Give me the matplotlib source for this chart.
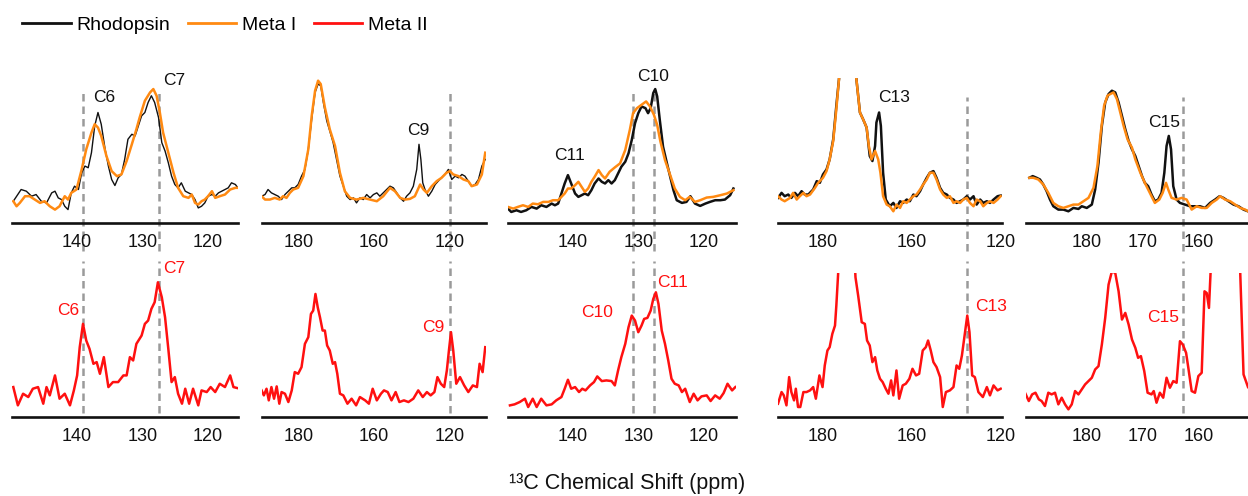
import matplotlib
matplotlib.use('Agg')
import matplotlib.pyplot as plt

plt.rcParams['font.family'] = ['Liberation Sans', 'DejaVu Sans']

# ---- data (ppm, intensity a.u.) ----
# panel 1: C6 / C7
p1_rho_ppm = [149.8, 148.6, 147.8, 147.0, 146.3, 145.5, 144.7, 143.9, 143.4, 142.9, 142.4, 141.9, 141.4, 140.9,
              140.4, 139.8, 139.3, 138.8, 138.3, 137.8, 137.3, 136.8, 136.3, 135.7, 135.2, 134.7, 134.2, 133.7,
              133.2, 132.7, 132.2, 131.6, 131.1, 130.6, 130.1, 129.6, 129.1, 128.6, 128.1, 127.5, 127.0, 126.5,
              126.0, 125.5, 125.0, 124.5, 124.0, 123.4, 122.9, 122.4, 121.9, 121.4, 120.9, 120.4, 119.9, 119.3,
              118.8, 118.3, 117.8, 117.3, 116.8, 116.3, 115.7, 115.4]
p1_rho_int = [65, 100, 95, 80, 85, 65, 60, 90, 95, 75, 70, 50, 40, 90,
              110, 100, 150, 170, 165, 210, 290, 330, 295, 220, 170, 130, 112, 135,
              145, 190, 250, 265, 260, 290, 320, 330, 360, 380, 360, 315, 240, 215,
              180, 140, 115, 105, 120, 95, 90, 85, 70, 45, 50, 60, 80, 85,
              80, 90, 95, 100, 105, 120, 115, 107]
p1_m1_ppm = [149.8, 149.3, 148.8, 148.0, 147.3, 146.5, 145.7, 145.0, 144.2, 143.4, 142.7, 141.9, 141.4, 140.9,
             140.1, 139.3, 138.6, 137.8, 137.3, 136.8, 136.3, 135.5, 134.7, 133.9, 133.2, 132.4, 131.6, 130.9,
             130.4, 129.6, 128.8, 128.3, 127.8, 127.3, 126.8, 126.0, 125.2, 124.5, 123.7, 122.9, 122.4, 121.9,
             121.4, 120.9, 120.4, 119.9, 119.3, 118.8, 118.1, 117.3, 116.5, 115.7, 115.4]
p1_m1_int = [65, 50, 60, 80, 80, 70, 60, 65, 50, 40, 50, 80, 70, 90,
             100, 160, 220, 270, 295, 285, 260, 200, 155, 140, 145, 185, 235, 280,
             315, 365, 390, 400, 380, 330, 270, 210, 150, 105, 80, 75, 85, 60,
             55, 65, 70, 80, 95, 75, 80, 85, 100, 105, 105]
p1_m2_ppm = [149.8, 149.1, 148.3, 147.5, 146.8, 146.0, 145.2, 144.7, 144.2, 143.4, 142.7, 141.9, 141.1, 140.5,
             140.0, 139.6, 139.1, 138.6, 138.1, 137.5, 137.0, 136.5, 135.9, 135.2, 134.5, 133.7, 132.9, 132.4,
             131.9, 131.4, 130.9, 130.1, 129.6, 129.1, 128.6, 128.1, 127.6, 127.0, 126.5, 126.0, 125.5, 125.0,
             124.5, 123.9, 123.4, 122.8, 122.2, 121.4, 120.9, 120.1, 119.5, 118.8, 118.1, 117.3, 116.5, 116.0,
             115.4]
p1_m2_int = [90, 35, 70, 60, 85, 90, 40, 90, 65, 125, 55, 70, 35, 80,
             125, 210, 280, 230, 205, 160, 165, 130, 180, 90, 105, 105, 125, 125,
             180, 170, 220, 245, 280, 290, 325, 345, 405, 360, 300, 205, 105, 120,
             70, 40, 85, 40, 85, 35, 80, 75, 90, 75, 100, 90, 125, 90,
             87]

# panel 2: C9 (axis labelled 180 / 160 / 120)
p2_rho_ppm = [189.9, 189.0, 188.2, 187.3, 186.4, 185.5, 184.6, 183.7, 182.8, 181.9, 181.1, 180.2, 179.3, 178.4,
              177.5, 176.6, 175.7, 174.9, 174.2, 173.5, 172.6, 171.8, 170.9, 170.0, 169.1, 168.2, 167.3, 166.4,
              165.5, 164.7, 163.8, 162.9, 162.0, 161.1, 160.2, 159.3, 158.5, 157.6, 156.7, 155.8, 154.9, 154.0,
              153.1, 152.2, 151.4, 150.5, 149.6, 148.7, 148.1, 147.6, 147.1, 146.5, 145.6, 144.7, 143.8, 143.0,
              142.1, 141.2, 140.3, 139.4, 138.5, 137.6, 136.7, 135.9, 135.0, 134.1, 133.2, 132.3, 131.4, 130.5]
p2_rho_int = [80, 85, 100, 90, 85, 80, 70, 85, 95, 105, 105, 115, 140, 160,
              220, 310, 390, 415, 410, 360, 305, 275, 240, 190, 140, 110, 80, 70,
              75, 60, 75, 70, 85, 75, 85, 90, 80, 90, 100, 110, 105, 90,
              75, 65, 80, 90, 110, 160, 235, 190, 120, 100, 80, 95, 115, 125,
              135, 145, 160, 130, 140, 135, 145, 140, 125, 110, 115, 130, 170, 190]
p2_m1_ppm = [189.9, 189.0, 187.7, 186.4, 185.1, 184.2, 183.3, 182.4, 181.5, 180.2, 178.8, 177.5, 176.6, 175.7,
             174.9, 174.2, 173.1, 171.8, 170.4, 169.1, 167.8, 166.4, 164.7, 162.9, 161.1, 159.3, 157.6, 155.8,
             154.5, 153.1, 151.8, 150.5, 149.2, 147.8, 146.9, 146.0, 144.7, 143.4, 142.1, 140.8, 139.9, 139.0,
             137.6, 136.3, 135.0, 134.1, 132.7, 131.4, 130.5]
p2_m1_int = [80, 70, 70, 75, 70, 80, 75, 90, 100, 105, 140, 220, 320, 395,
             425, 415, 345, 280, 230, 150, 95, 75, 70, 75, 70, 65, 80, 105,
             95, 75, 70, 72, 80, 115, 100, 90, 110, 125, 135, 150, 155, 145,
             140, 130, 125, 110, 115, 145, 210]
p2_m2_ppm = [189.9, 189.3, 188.6, 188.0, 187.3, 186.6, 185.9, 185.2, 184.6, 183.7, 182.8, 181.9, 181.1, 180.2,
             179.3, 178.4, 177.5, 176.8, 176.2, 175.6, 175.0, 174.4, 173.7, 173.1, 172.5, 171.8, 171.0, 170.4,
             169.8, 169.1, 168.2, 167.1, 166.0, 164.8, 163.8, 162.4, 161.4, 160.4, 159.3, 158.2, 157.4, 156.4,
             155.4, 154.3, 153.3, 152.1, 150.9, 149.6, 148.3, 147.1, 146.0, 145.0, 144.0, 143.2, 142.3, 141.4,
             140.7, 140.1, 139.6, 139.0, 138.2, 137.2, 136.1, 135.0, 133.8, 132.7, 132.0, 131.2, 130.5]
p2_m2_int = [80, 65, 85, 50, 90, 55, 92, 40, 75, 70, 45, 80, 135, 130,
             150, 220, 240, 310, 320, 370, 330, 300, 260, 260, 215, 200, 160, 165,
             130, 70, 65, 40, 55, 35, 60, 50, 40, 85, 50, 70, 80, 75,
             50, 75, 45, 50, 45, 55, 80, 60, 75, 65, 75, 120, 100, 90,
             140, 205, 255, 200, 100, 120, 95, 75, 95, 90, 160, 135, 210]

# panel 3: C10 / C11
p3_rho_ppm = [150.0, 149.5, 148.7, 148.0, 147.2, 146.4, 145.6, 144.9, 144.1, 143.3, 142.8, 142.3, 141.8, 141.3,
              140.8, 140.3, 139.7, 139.2, 138.7, 138.2, 137.7, 137.2, 136.7, 136.1, 135.6, 135.1, 134.6, 134.1,
              133.6, 133.1, 132.6, 132.0, 131.5, 131.0, 130.5, 130.0, 129.5, 128.9, 128.5, 128.1, 127.7, 127.4,
              127.1, 126.7, 126.2, 125.6, 125.1, 124.6, 124.1, 123.3, 122.6, 122.0, 121.3, 120.5, 119.7, 119.0,
              118.2, 117.4, 116.7, 115.9, 115.4]
p3_rho_int = [43, 33, 38, 33, 38, 48, 43, 53, 48, 58, 53, 58, 88, 118,
              143, 118, 88, 78, 83, 88, 83, 98, 118, 133, 123, 118, 128, 118,
              128, 148, 168, 183, 208, 248, 298, 328, 348, 343, 328, 343, 388, 400,
              378, 308, 228, 178, 138, 98, 68, 60, 63, 80, 58, 51, 58, 63,
              68, 68, 70, 83, 103]
p3_m1_ppm = [150.0, 149.2, 148.5, 147.7, 146.9, 146.2, 145.4, 144.6, 143.8, 143.1, 142.3, 141.8, 141.3, 140.8,
             140.3, 139.7, 139.2, 138.7, 138.2, 137.7, 137.2, 136.7, 136.1, 135.6, 135.1, 134.4, 133.6, 132.8,
             132.0, 131.3, 130.8, 130.2, 129.5, 128.8, 128.2, 127.6, 127.1, 126.6, 125.9, 125.1, 124.4, 123.6,
             122.8, 122.1, 121.3, 120.5, 119.5, 118.5, 117.4, 116.4, 115.4]
p3_m1_int = [48, 43, 48, 53, 48, 58, 56, 63, 63, 68, 68, 78, 88, 103,
             103, 113, 123, 108, 93, 103, 123, 138, 158, 143, 133, 153, 166, 178,
             218, 278, 328, 343, 353, 363, 348, 323, 293, 243, 188, 143, 103, 78,
             68, 78, 63, 68, 76, 78, 83, 88, 98]
p3_m2_ppm = [149.7, 149.0, 148.2, 147.4, 146.9, 146.2, 145.6, 144.9, 144.1, 143.3, 142.6, 141.8, 141.3, 140.8,
             140.3, 139.7, 139.1, 138.6, 138.1, 137.4, 136.8, 136.3, 135.6, 134.9, 134.1, 133.6, 133.1, 132.6,
             132.0, 131.5, 131.0, 130.5, 130.0, 129.5, 129.1, 128.6, 128.1, 127.7, 127.3, 126.9, 126.4, 125.9,
             125.4, 124.9, 124.4, 123.8, 123.3, 122.8, 122.1, 121.5, 120.9, 120.3, 119.5, 118.9, 118.2, 117.5,
             116.9, 116.3, 115.6, 115.1]
p3_m2_int = [35, 38, 45, 55, 30, 55, 30, 55, 35, 38, 50, 60, 85, 112,
             85, 90, 75, 85, 80, 95, 105, 122, 108, 110, 108, 95, 140, 180,
             220, 270, 305, 290, 255, 275, 295, 298, 320, 355, 375, 340, 260, 220,
             170, 115, 100, 95, 75, 85, 45, 70, 50, 62, 65, 48, 65, 55,
             72, 100, 80, 90]

# panel 4: C13 (axis labelled 180 / 160 / 120)
p4_rho_ppm = [190.0, 189.2, 188.5, 187.7, 187.0, 186.2, 185.5, 184.7, 184.0, 183.2, 182.1, 181.3, 180.6, 179.9,
              179.1, 178.4, 177.6, 176.9, 176.3, 175.7, 174.5, 173.5, 172.4, 171.6, 170.9, 170.1, 169.4, 168.8,
              168.2, 167.9, 167.3, 166.9, 166.4, 165.8, 164.9, 164.1, 163.4, 162.6, 161.9, 161.1, 160.4, 159.6,
              158.9, 158.1, 157.4, 156.6, 155.9, 155.1, 154.4, 153.6, 152.9, 152.1, 151.4, 150.6, 149.9, 149.1,
              148.4, 147.6, 146.9, 146.1, 145.4, 144.6, 143.9, 143.1, 142.4, 141.6, 140.7, 140.0]
p4_rho_int = [75, 90, 80, 85, 75, 90, 80, 95, 85, 85, 100, 125, 120, 145,
              160, 190, 250, 350, 430, 590, 690, 590, 430, 330, 310, 285, 200, 185,
              230, 300, 330, 290, 150, 70, 50, 60, 45, 65, 60, 70, 65, 85,
              80, 95, 115, 135, 150, 155, 135, 105, 90, 85, 75, 70, 60, 65,
              70, 80, 70, 80, 55, 70, 60, 65, 60, 70, 80, 82]
p4_m1_ppm = [190.0, 189.2, 188.5, 187.3, 186.6, 185.8, 185.1, 184.3, 183.6, 182.8, 181.7, 181.0, 179.9, 179.1,
             178.4, 177.6, 176.9, 176.3, 175.7, 174.5, 173.5, 172.4, 171.6, 170.9, 170.1, 169.6, 169.0, 168.2,
             167.5, 167.0, 166.4, 165.6, 164.9, 164.1, 163.4, 162.6, 161.9, 161.1, 160.4, 159.6, 158.9, 158.1,
             157.4, 156.6, 155.9, 155.1, 154.4, 153.6, 152.9, 152.1, 151.4, 150.6, 149.9, 149.1, 148.4, 147.6,
             146.9, 146.1, 145.4, 144.6, 143.9, 143.1, 142.4, 141.6, 140.7, 140.0]
p4_m1_int = [80, 70, 65, 75, 90, 70, 80, 90, 80, 85, 105, 120, 135, 155,
             190, 245, 340, 430, 590, 690, 590, 430, 330, 310, 285, 230, 190, 215,
             190, 150, 80, 55, 50, 35, 55, 45, 65, 60, 70, 80, 85, 100,
             115, 130, 150, 150, 130, 100, 85, 75, 80, 60, 65, 60, 70, 75,
             60, 50, 70, 65, 50, 60, 65, 60, 70, 80]
p4_m2_ppm = [190.0, 189.2, 188.7, 188.1, 187.5, 187.0, 186.4, 186.0, 185.5, 185.0, 184.3, 183.6, 182.8, 182.1,
             181.5, 180.7, 180.0, 179.5, 178.9, 178.4, 177.8, 177.2, 176.9, 176.5, 176.1, 174.6, 173.1, 172.6,
             172.0, 171.2, 170.5, 170.0, 169.4, 168.8, 168.2, 167.7, 167.1, 166.5, 165.8, 165.2, 164.6, 164.1,
             163.4, 162.8, 162.0, 161.3, 160.5, 159.8, 159.0, 158.3, 157.5, 156.8, 156.3, 155.7, 155.1, 154.4,
             153.6, 153.0, 152.3, 151.4, 150.6, 149.9, 149.3, 148.7, 148.1, 147.5, 147.0, 146.4, 145.8, 145.0,
             144.0, 143.1, 142.4, 141.6, 140.7, 140.0]
p4_m2_int = [40, 75, 65, 35, 120, 75, 50, 85, 30, 30, 75, 75, 80, 90,
             55, 125, 90, 155, 200, 210, 250, 275, 335, 430, 555, 625, 555, 420,
             365, 285, 280, 230, 215, 165, 180, 140, 115, 105, 85, 70, 110, 65,
             140, 55, 95, 100, 115, 145, 125, 130, 200, 210, 230, 200, 165, 150,
             120, 30, 75, 80, 90, 155, 145, 185, 245, 305, 255, 125, 120, 75,
             60, 90, 65, 95, 80, 85]

# panel 5: C15
p5_rho_ppm = [190.3, 189.7, 189.0, 188.4, 187.8, 187.2, 186.6, 186.0, 185.1, 184.2, 183.3, 182.4, 181.5, 180.9,
              180.0, 179.1, 178.5, 177.9, 177.3, 176.7, 176.1, 175.5, 174.9, 174.3, 173.7, 173.1, 172.5, 171.9,
              171.3, 170.7, 170.1, 169.6, 169.0, 168.4, 167.8, 167.2, 166.6, 166.1, 165.7, 165.3, 164.9, 164.5,
              163.9, 163.3, 162.4, 161.5, 160.6, 159.7, 158.8, 157.9, 157.0, 156.2, 155.5, 154.6, 153.7, 152.8,
              151.9, 151.1]
p5_rho_int = [135, 140, 135, 130, 115, 95, 70, 50, 40, 40, 35, 45, 42, 50,
              45, 55, 100, 180, 290, 360, 385, 395, 390, 360, 320, 280, 245, 220,
              200, 170, 140, 120, 110, 85, 65, 70, 90, 150, 230, 260, 220, 110,
              70, 60, 55, 50, 50, 50, 45, 60, 70, 80, 75, 65, 55, 50,
              40, 35]
p5_m1_ppm = [190.3, 189.6, 188.7, 187.8, 186.9, 186.0, 185.1, 184.2, 183.3, 182.4, 181.5, 180.6, 179.7, 178.8,
             178.1, 177.5, 176.9, 176.3, 175.8, 175.2, 174.6, 174.0, 173.4, 172.7, 171.9, 171.3, 170.4, 169.6,
             168.7, 167.8, 167.0, 166.4, 165.8, 165.4, 164.8, 163.9, 163.0, 162.1, 161.2, 160.3, 159.4, 158.5,
             157.6, 156.7, 156.1, 155.2, 154.3, 153.4, 152.5, 151.6, 151.1]
p5_m1_int = [135, 135, 130, 115, 90, 60, 50, 45, 50, 55, 55, 65, 75, 105,
             170, 270, 350, 380, 385, 390, 370, 330, 290, 250, 225, 190, 150, 120,
             90, 60, 70, 90, 120, 100, 75, 70, 75, 70, 40, 50, 45, 45,
             60, 70, 80, 70, 65, 55, 45, 40, 35]
p5_m2_ppm = [191.0, 190.4, 189.8, 189.2, 188.6, 188.1, 187.5, 186.9, 186.3, 185.7, 185.1, 184.5, 183.9, 183.3,
             182.7, 182.1, 181.5, 180.9, 180.3, 179.7, 179.1, 178.5, 177.9, 177.3, 176.7, 176.1, 175.5, 174.9,
             174.3, 173.7, 173.1, 172.5, 171.9, 171.3, 170.8, 170.3, 169.7, 169.1, 168.4, 168.0, 167.5, 166.9,
             166.3, 165.7, 165.1, 164.5, 163.9, 163.3, 162.8, 162.2, 161.8, 161.2, 160.6, 160.0, 159.4, 158.9,
             158.5, 158.1, 157.8, 157.5, 155.5, 152.8, 152.5, 151.9, 151.1]
p5_m2_int = [70, 48, 68, 73, 53, 48, 33, 73, 68, 73, 38, 58, 38, 23,
             38, 78, 68, 83, 98, 108, 118, 143, 153, 218, 298, 398, 438, 433,
             378, 293, 313, 278, 233, 208, 178, 183, 138, 73, 68, 78, 43, 73,
             58, 118, 88, 108, 103, 228, 218, 193, 148, 78, 73, 123, 133, 378,
             373, 328, 438, 578, 678, 578, 438, 128, 90]

# ---- axis settings ----
p1_ticks, p1_labels = [140, 130, 120], ['140', '130', '120']
p2_ticks, p2_labels = [180, 160, 140], ['180', '160', '120']
p3_ticks, p3_labels = [140, 130, 120], ['140', '130', '120']
p4_ticks, p4_labels = [180, 160, 140], ['180', '160', '120']
p5_ticks, p5_labels = [180, 170, 160], ['180', '170', '160']

BLACK = '#111111'
ORANGE = '#FF8A12'
RED = '#FF1010'
GRID = '#9a9a9a'

panels = [
    dict(left=12, right=238, xlim=(150.0, 115.3), ticks=p1_ticks, labels=p1_labels, dash=[139.1, 127.5],
         dash_top=0.92, rho=(p1_rho_ppm, p1_rho_int), m1=(p1_m1_ppm, p1_m1_int), m2=(p1_m2_ppm, p1_m2_int),
         rho_lw=1.0, top_lab=[('C6', 135.8, 375), ('C7', 125.1, 426)],
         bot_lab=[('C6', 141.4, 321), ('C7', 125.1, 447)]),
    dict(left=262, right=486, xlim=(189.8, 130.3), ticks=p2_ticks, labels=p2_labels, dash=[139.8],
         dash_top=0.92, rho=(p2_rho_ppm, p2_rho_int), m1=(p2_m1_ppm, p2_m1_int), m2=(p2_m2_ppm, p2_m2_int),
         rho_lw=1.0, top_lab=[('C9', 148.3, 275)], bot_lab=[('C9', 144.4, 270)]),
    dict(left=508, right=736, xlim=(150.0, 115.0), ticks=p3_ticks, labels=p3_labels, dash=[130.8, 127.6],
         dash_top=0.90, rho=(p3_rho_ppm, p3_rho_int), m1=(p3_m1_ppm, p3_m1_int), m2=(p3_m2_ppm, p3_m2_int),
         rho_lw=1.8, top_lab=[('C11', 140.5, 203), ('C10', 127.7, 436)],
         bot_lab=[('C10', 136.3, 315), ('C11', 124.7, 405)]),
    dict(left=778, right=1002, xlim=(190.0, 139.7), ticks=p4_ticks, labels=p4_labels, dash=[147.6],
         dash_top=0.87, rho=(p4_rho_ppm, p4_rho_int), m1=(p4_m1_ppm, p4_m1_int), m2=(p4_m2_ppm, p4_m2_int),
         rho_lw=1.8, top_lab=[('C13', 164.0, 375)], bot_lab=[('C13', 142.2, 333)]),
    dict(left=1026, right=1248, xlim=(190.9, 151.1), ticks=p5_ticks, labels=p5_labels, dash=[162.7],
         dash_top=0.87, rho=(p5_rho_ppm, p5_rho_int), m1=(p5_m1_ppm, p5_m1_int), m2=(p5_m2_ppm, p5_m2_int),
         rho_lw=1.8, top_lab=[('C15', 166.1, 300)], bot_lab=[('C15', 166.4, 298)]),
]

W, H = 1248, 496
fig = plt.figure(figsize=(W / 100, H / 100), dpi=100)


def style_axis(ax, p):
    ax.set_xlim(*p['xlim'])
    ax.set_ylim(0, 433)
    for s in ('left', 'right', 'top'):
        ax.spines[s].set_visible(False)
    ax.spines['bottom'].set_linewidth(1.9)
    ax.spines['bottom'].set_color('#111111')
    ax.set_yticks([])
    ax.set_xticks(p['ticks'])
    ax.set_xticklabels(p['labels'], fontsize=13, color='#111111')
    ax.tick_params(axis='x', length=0, pad=8)
    ax.patch.set_alpha(0)


handles = []
for i, p in enumerate(panels):
    w = p['right'] - p['left']
    ax_top = fig.add_axes([p['left'] / W, (H - 223) / H, w / W, 145 / H])
    ax_bot = fig.add_axes([p['left'] / W, (H - 417) / H, w / W, 144 / H])
    style_axis(ax_top, p)
    style_axis(ax_bot, p)

    for x in p['dash']:
        ax_top.axvline(x, ymin=-0.19, ymax=p['dash_top'], color=GRID, lw=1.8,
                       ls=(0, (3, 2)), clip_on=False, zorder=0)
        ax_bot.axvline(x, ymin=0.03, ymax=1.08, color=GRID, lw=1.8,
                       ls=(0, (3, 2)), clip_on=False, zorder=0)

    l1, = ax_top.plot(*p['rho'], color=BLACK, lw=p['rho_lw'], label='Rhodopsin')
    l2, = ax_top.plot(*p['m1'], color=ORANGE, lw=1.8, label='Meta I')
    l3, = ax_bot.plot(*p['m2'], color=RED, lw=1.8, label='Meta II')
    if i == 0:
        handles = [l1, l2, l3]

    for txt, x, y in p['top_lab']:
        ax_top.text(x, y, txt, fontsize=12.5, color='#111111', ha='center', va='center', clip_on=False)
    for txt, x, y in p['bot_lab']:
        ax_bot.text(x, y, txt, fontsize=12.5, color=RED, ha='center', va='center', clip_on=False)

leg = fig.legend(handles=handles, labels=['Rhodopsin', 'Meta I', 'Meta II'], loc='upper left',
                 bbox_to_anchor=(22 / W, 1 - 16 / H), ncol=3, frameon=False, fontsize=14,
                 handlelength=2.5, handletextpad=0.3, columnspacing=0.9, borderpad=0, borderaxespad=0)
for line in leg.get_lines():
    line.set_linewidth(2.0)

fig.text(627 / W, 1 - 484 / H, '\u00b9\u00b3C Chemical Shift (ppm)', fontsize=15.5,
         color='#111111', ha='center', va='center')

fig.savefig('out.png', dpi=100)
